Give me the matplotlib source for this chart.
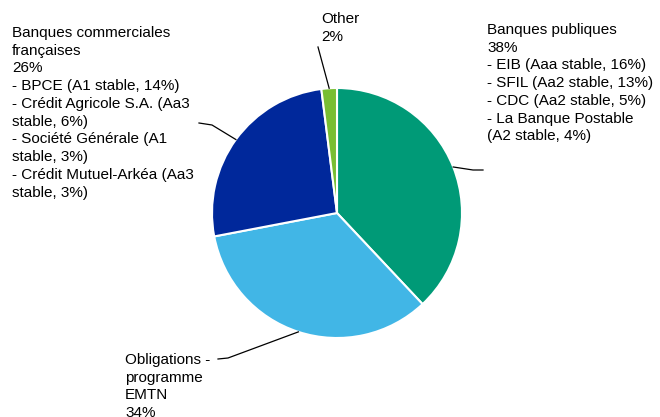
import math

import matplotlib
matplotlib.use("Agg")
import matplotlib.pyplot as plt

plt.rcParams["font.family"] = ["Liberation Sans", "DejaVu Sans"]

# slice order: clockwise from 12 o'clock
shares = [38, 34, 26, 2]
colors = ["#009A77", "#41B6E6", "#00289B", "#78BE32"]
labels = [
    "Banques publiques\n38%\n- EIB (Aaa stable, 16%)\n- SFIL (Aa2 stable, 13%)\n"
    "- CDC (Aa2 stable, 5%)\n- La Banque Postable\n(A2 stable, 4%)",
    "Obligations -\nprogramme\nEMTN\n34%",
    "Banques commerciales\nfrançaises\n26%\n- BPCE (A1 stable, 14%)\n- Crédit Agricole S.A. (Aa3\n"
    "stable, 6%)\n- Société Générale (A1\nstable, 3%)\n- Crédit Mutuel-Arkéa (Aa3\nstable, 3%)",
    "Other\n2%",
]

W, H = 660, 417
CX, CY, R = 337, 213, 125          # pie centre / radius in pixels

# label placement (pixels, top-left) and leader path (text end, elbow) in pixels
text_pos = [(487, 23), (125, 353), (12, 26), (321, 12)]
leaders = [[(483, 170), (473, 170)], [(218, 359), (228, 358)],
           [(199, 123), (212, 125)], [(318, 47), (318, 47)]]


def px2data(p):
    return ((p[0] - CX) / R, (CY - p[1]) / R)


fig = plt.figure(figsize=(W / 100, H / 100), dpi=100)
ax = fig.add_axes([(CX - R) / W, (H - CY - R) / H, 2 * R / W, 2 * R / H])
wedges, _ = ax.pie(shares, colors=colors, startangle=90, counterclock=False, radius=1,
                   wedgeprops=dict(edgecolor="white", linewidth=1.5))
ax.set_xlim(-1, 1); ax.set_ylim(-1, 1); ax.set_aspect("equal"); ax.axis("off")

for w, lab, tp, ld in zip(wedges, labels, text_pos, leaders):
    mid = math.radians((w.theta1 + w.theta2) / 2)
    tip = (math.cos(mid), math.sin(mid))
    pts = [px2data(ld[0]), px2data(ld[1]), tip]
    ax.plot([p[0] for p in pts], [p[1] for p in pts], color="black", lw=0.9, clip_on=False)
    fig.text(tp[0] / W, 1 - tp[1] / H, lab, ha="left", va="top", fontsize=11,
             linespacing=1.34, color="black")

fig.savefig("out.png", dpi=100)
